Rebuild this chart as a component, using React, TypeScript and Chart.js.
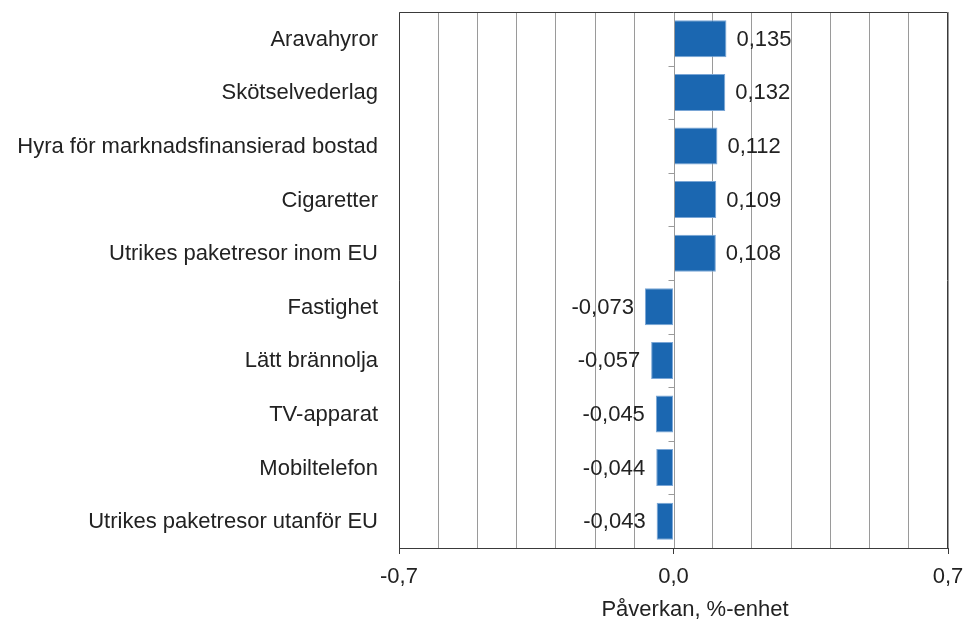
import React, { useEffect, useRef } from "react";
import { Chart, registerables } from "chart.js";

Chart.register(...registerables);

const categories: string[] = [
  "Aravahyror",
  "Skötselvederlag",
  "Hyra för marknadsfinansierad bostad",
  "Cigaretter",
  "Utrikes paketresor inom EU",
  "Fastighet",
  "Lätt brännolja",
  "TV-apparat",
  "Mobiltelefon",
  "Utrikes paketresor utanför EU",
];

const values: number[] = [0.135, 0.132, 0.112, 0.109, 0.108, -0.073, -0.057, -0.045, -0.044, -0.043];

const xMin = -0.7;
const xMax = 0.7;
const xStep = 0.1;
const labeledTicks: number[] = [-0.7, 0, 0.7];
const xTitle = "Påverkan, %-enhet";

const FONT = "'Liberation Sans', Arial, sans-serif";
const TEXT = "#222222";

const fmt = (v: number, d: number) => v.toFixed(d).replace(".", ",");
const isLabeled = (v: number) => labeledTicks.some((t) => Math.abs(t - v) < 1e-9);

export default function App() {
  const ref = useRef<HTMLCanvasElement | null>(null);

  useEffect(() => {
    document.body.style.margin = "0";
    const canvas = ref.current;
    if (!canvas) return;

    const overlay = {
      id: "overlay",
      afterDatasetsDraw(chart: any) {
        const ctx = chart.ctx;
        const { left, right, top, bottom } = chart.chartArea;
        const xs = chart.scales.x;
        const ys = chart.scales.y;
        const x0 = Math.round(xs.getPixelForValue(0)) + 0.5;
        ctx.save();
        // zero line
        ctx.strokeStyle = "#9a9a9a";
        ctx.lineWidth = 1;
        ctx.beginPath();
        ctx.moveTo(x0, top);
        ctx.lineTo(x0, bottom);
        ctx.stroke();
        // category boundary ticks on zero line
        for (let i = 0; i < categories.length - 1; i++) {
          const yb = Math.round((ys.getPixelForValue(i) + ys.getPixelForValue(i + 1)) / 2) + 0.5;
          ctx.beginPath();
          ctx.moveTo(x0 - 6, yb);
          ctx.lineTo(x0, yb);
          ctx.stroke();
        }
        // frame
        ctx.strokeStyle = "#3a3a3a";
        ctx.beginPath();
        ctx.moveTo(Math.round(left) + 0.5, Math.round(bottom) + 0.5);
        ctx.lineTo(Math.round(left) + 0.5, Math.round(top) + 0.5);
        ctx.lineTo(Math.round(right) - 0.5, Math.round(top) + 0.5);
        ctx.lineTo(Math.round(right) - 0.5, Math.round(bottom) + 0.5);
        ctx.stroke();

        ctx.fillStyle = TEXT;
        ctx.font = `22px ${FONT}`;
        ctx.textBaseline = "middle";
        // category labels
        ctx.textAlign = "right";
        categories.forEach((c, i) => {
          ctx.fillText(c, left - 21, ys.getPixelForValue(i) + 1);
        });
        // x tick labels
        ctx.textAlign = "center";
        labeledTicks.forEach((t) => {
          ctx.fillText(fmt(t, 1), xs.getPixelForValue(t), 577);
        });
        // value labels
        const meta = chart.getDatasetMeta(0);
        meta.data.forEach((bar: any, i: number) => {
          const v = values[i];
          const txt = fmt(v, 3);
          if (v >= 0) {
            ctx.textAlign = "left";
            ctx.fillText(txt, bar.x + 10, bar.y + 1);
          } else {
            ctx.textAlign = "right";
            ctx.fillText(txt, bar.x - 11, bar.y + 1);
          }
        });
        // axis title
        ctx.textAlign = "center";
        ctx.fillText(xTitle, 695, 610);
        ctx.restore();
      },
    };

    const chart = new Chart(canvas, {
      type: "bar",
      data: {
        labels: categories,
        datasets: [
          {
            data: values,
            backgroundColor: "#1b67b1",
            borderColor: "#7aa6d6",
            borderWidth: 1,
            borderSkipped: false,
            barPercentage: 0.69,
            categoryPercentage: 1,
          },
        ],
      },
      options: {
        indexAxis: "y",
        animation: false,
        responsive: false,
        maintainAspectRatio: false,
        layout: { padding: { left: 0, top: 12, right: 18, bottom: 0 } },
        plugins: { legend: { display: false }, tooltip: { enabled: false }, title: { display: false } },
        scales: {
          x: {
            type: "linear",
            min: xMin,
            max: xMax,
            ticks: {
              stepSize: xStep,
              autoSkip: false,
              display: false,
            },
            grid: {
              color: (c: any) => (c.tick && Math.abs(c.tick.value) < 1e-9 ? "rgba(0,0,0,0)" : "#9a9a9a"),
              tickColor: (c: any) => (c.tick && isLabeled(c.tick.value) ? "#3a3a3a" : "rgba(0,0,0,0)"),
              tickLength: 6,
              drawTicks: true,
            },
            border: { display: true, color: "#3a3a3a", width: 1 },
            afterFit: (s: any) => {
              s.height = 622 - 548;
            },
          },
          y: {
            type: "category",
            grid: { display: false, drawTicks: false },
            border: { display: false },
            ticks: { display: false, autoSkip: false },
            afterFit: (s: any) => {
              s.width = 399;
            },
          },
        },
      },
      plugins: [overlay],
    });

    return () => chart.destroy();
  }, []);

  return (
    <div style={{ width: 966, height: 622 }}>
      <canvas ref={ref} width={966} height={622} style={{ display: "block" }} />
    </div>
  );
}
